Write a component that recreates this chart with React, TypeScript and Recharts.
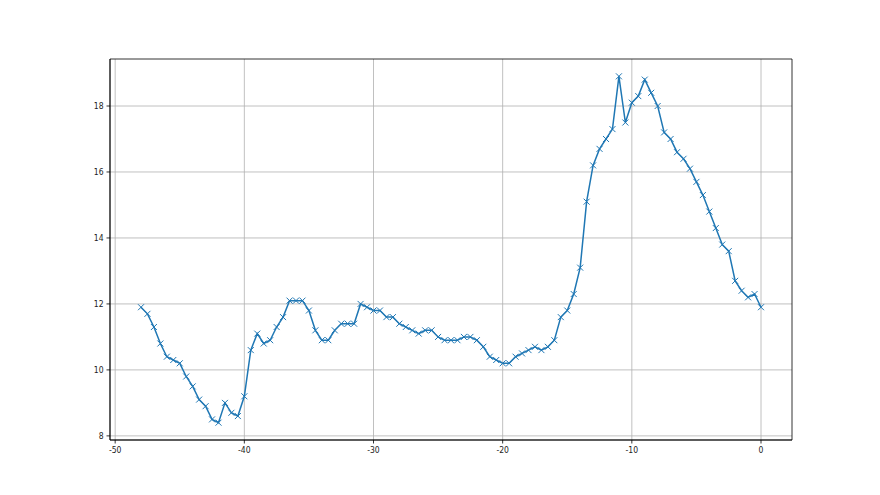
import React from "react";
import { LineChart, Line, XAxis, YAxis, CartesianGrid, ReferenceArea } from "recharts";

const xStart = -48;
const xStep = 0.5;
const yValues = [
  11.9, 11.7, 11.3, 10.8, 10.4, 10.3, 10.2, 9.8, 9.5, 9.1, 8.9, 8.5, 8.4, 9.0, 8.7, 8.6,
  9.2, 10.6, 11.1, 10.8, 10.9, 11.3, 11.6, 12.1, 12.1, 12.1, 11.8, 11.2, 10.9, 10.9, 11.2,
  11.4, 11.4, 11.4, 12.0, 11.9, 11.8, 11.8, 11.6, 11.6, 11.4, 11.3, 11.2, 11.1, 11.2, 11.2,
  11.0, 10.9, 10.9, 10.9, 11.0, 11.0, 10.9, 10.7, 10.4, 10.3, 10.2, 10.2, 10.4, 10.5, 10.6,
  10.7, 10.6, 10.7, 10.9, 11.6, 11.8, 12.3, 13.1, 15.1, 16.2, 16.7, 17.0, 17.3, 18.9, 17.5,
  18.1, 18.3, 18.8, 18.4, 18.0, 17.2, 17.0, 16.6, 16.4, 16.1, 15.7, 15.3, 14.8, 14.3, 13.8,
  13.6, 12.7, 12.4, 12.2, 12.3, 11.9,
];
const xTicks = [-50, -40, -30, -20, -10, 0];
const yTicks = [8, 10, 12, 14, 16, 18];
const xDomain: [number, number] = [-50.4, 2.4];
const yDomain: [number, number] = [7.875, 19.425];

const data = yValues.map((y, i) => ({ x: xStart + i * xStep, y }));

const XMarker = (props: any) => {
  const { cx, cy } = props;
  if (cx == null || cy == null) return null;
  const r = 3;
  return (
    <g>
      <line x1={cx - r} y1={cy - r} x2={cx + r} y2={cy + r} stroke="#1f77b4" strokeWidth={1} />
      <line x1={cx - r} y1={cy + r} x2={cx + r} y2={cy - r} stroke="#1f77b4" strokeWidth={1} />
    </g>
  );
};

const tickStyle = { fontFamily: "'DejaVu Sans Condensed', 'DejaVu Sans'", fontSize: 8.5, fill: "#222" };

export default function App() {
  return (
    <div style={{ position: "absolute", left: 0, top: 0, width: 880, height: 495, background: "#fff" }}>
      <LineChart
        width={880}
        height={495}
        data={data}
        margin={{ top: 59, right: 88, left: 70, bottom: 25 }}
      >
        <CartesianGrid
          stroke="#b0b0b0"
          strokeWidth={0.8}
          horizontalValues={yTicks}
          verticalValues={xTicks}
        />
        <XAxis
          dataKey="x"
          type="number"
          domain={xDomain}
          ticks={xTicks}
          allowDataOverflow
          height={30}
          tickSize={3.5}
          tickMargin={3}
          tick={tickStyle}
          axisLine={{ stroke: "#000", strokeWidth: 0.8 }}
          tickLine={{ stroke: "#000", strokeWidth: 0.8 }}
        />
        <YAxis
          type="number"
          domain={yDomain}
          ticks={yTicks}
          allowDataOverflow
          width={40}
          tickSize={3.5}
          tickMargin={3}
          tick={tickStyle}
          axisLine={{ stroke: "#000", strokeWidth: 0.8 }}
          tickLine={{ stroke: "#000", strokeWidth: 0.8 }}
        />
        <Line
          type="linear"
          dataKey="y"
          stroke="#1f77b4"
          strokeWidth={1.5}
          dot={<XMarker />}
          activeDot={false}
          isAnimationActive={false}
        />
        <ReferenceArea
          x1={xDomain[0]}
          x2={xDomain[1]}
          y1={yDomain[0]}
          y2={yDomain[1]}
          fill="none"
          fillOpacity={0}
          stroke="#000"
          strokeWidth={0.8}
          ifOverflow="visible"
        />
      </LineChart>
    </div>
  );
}
